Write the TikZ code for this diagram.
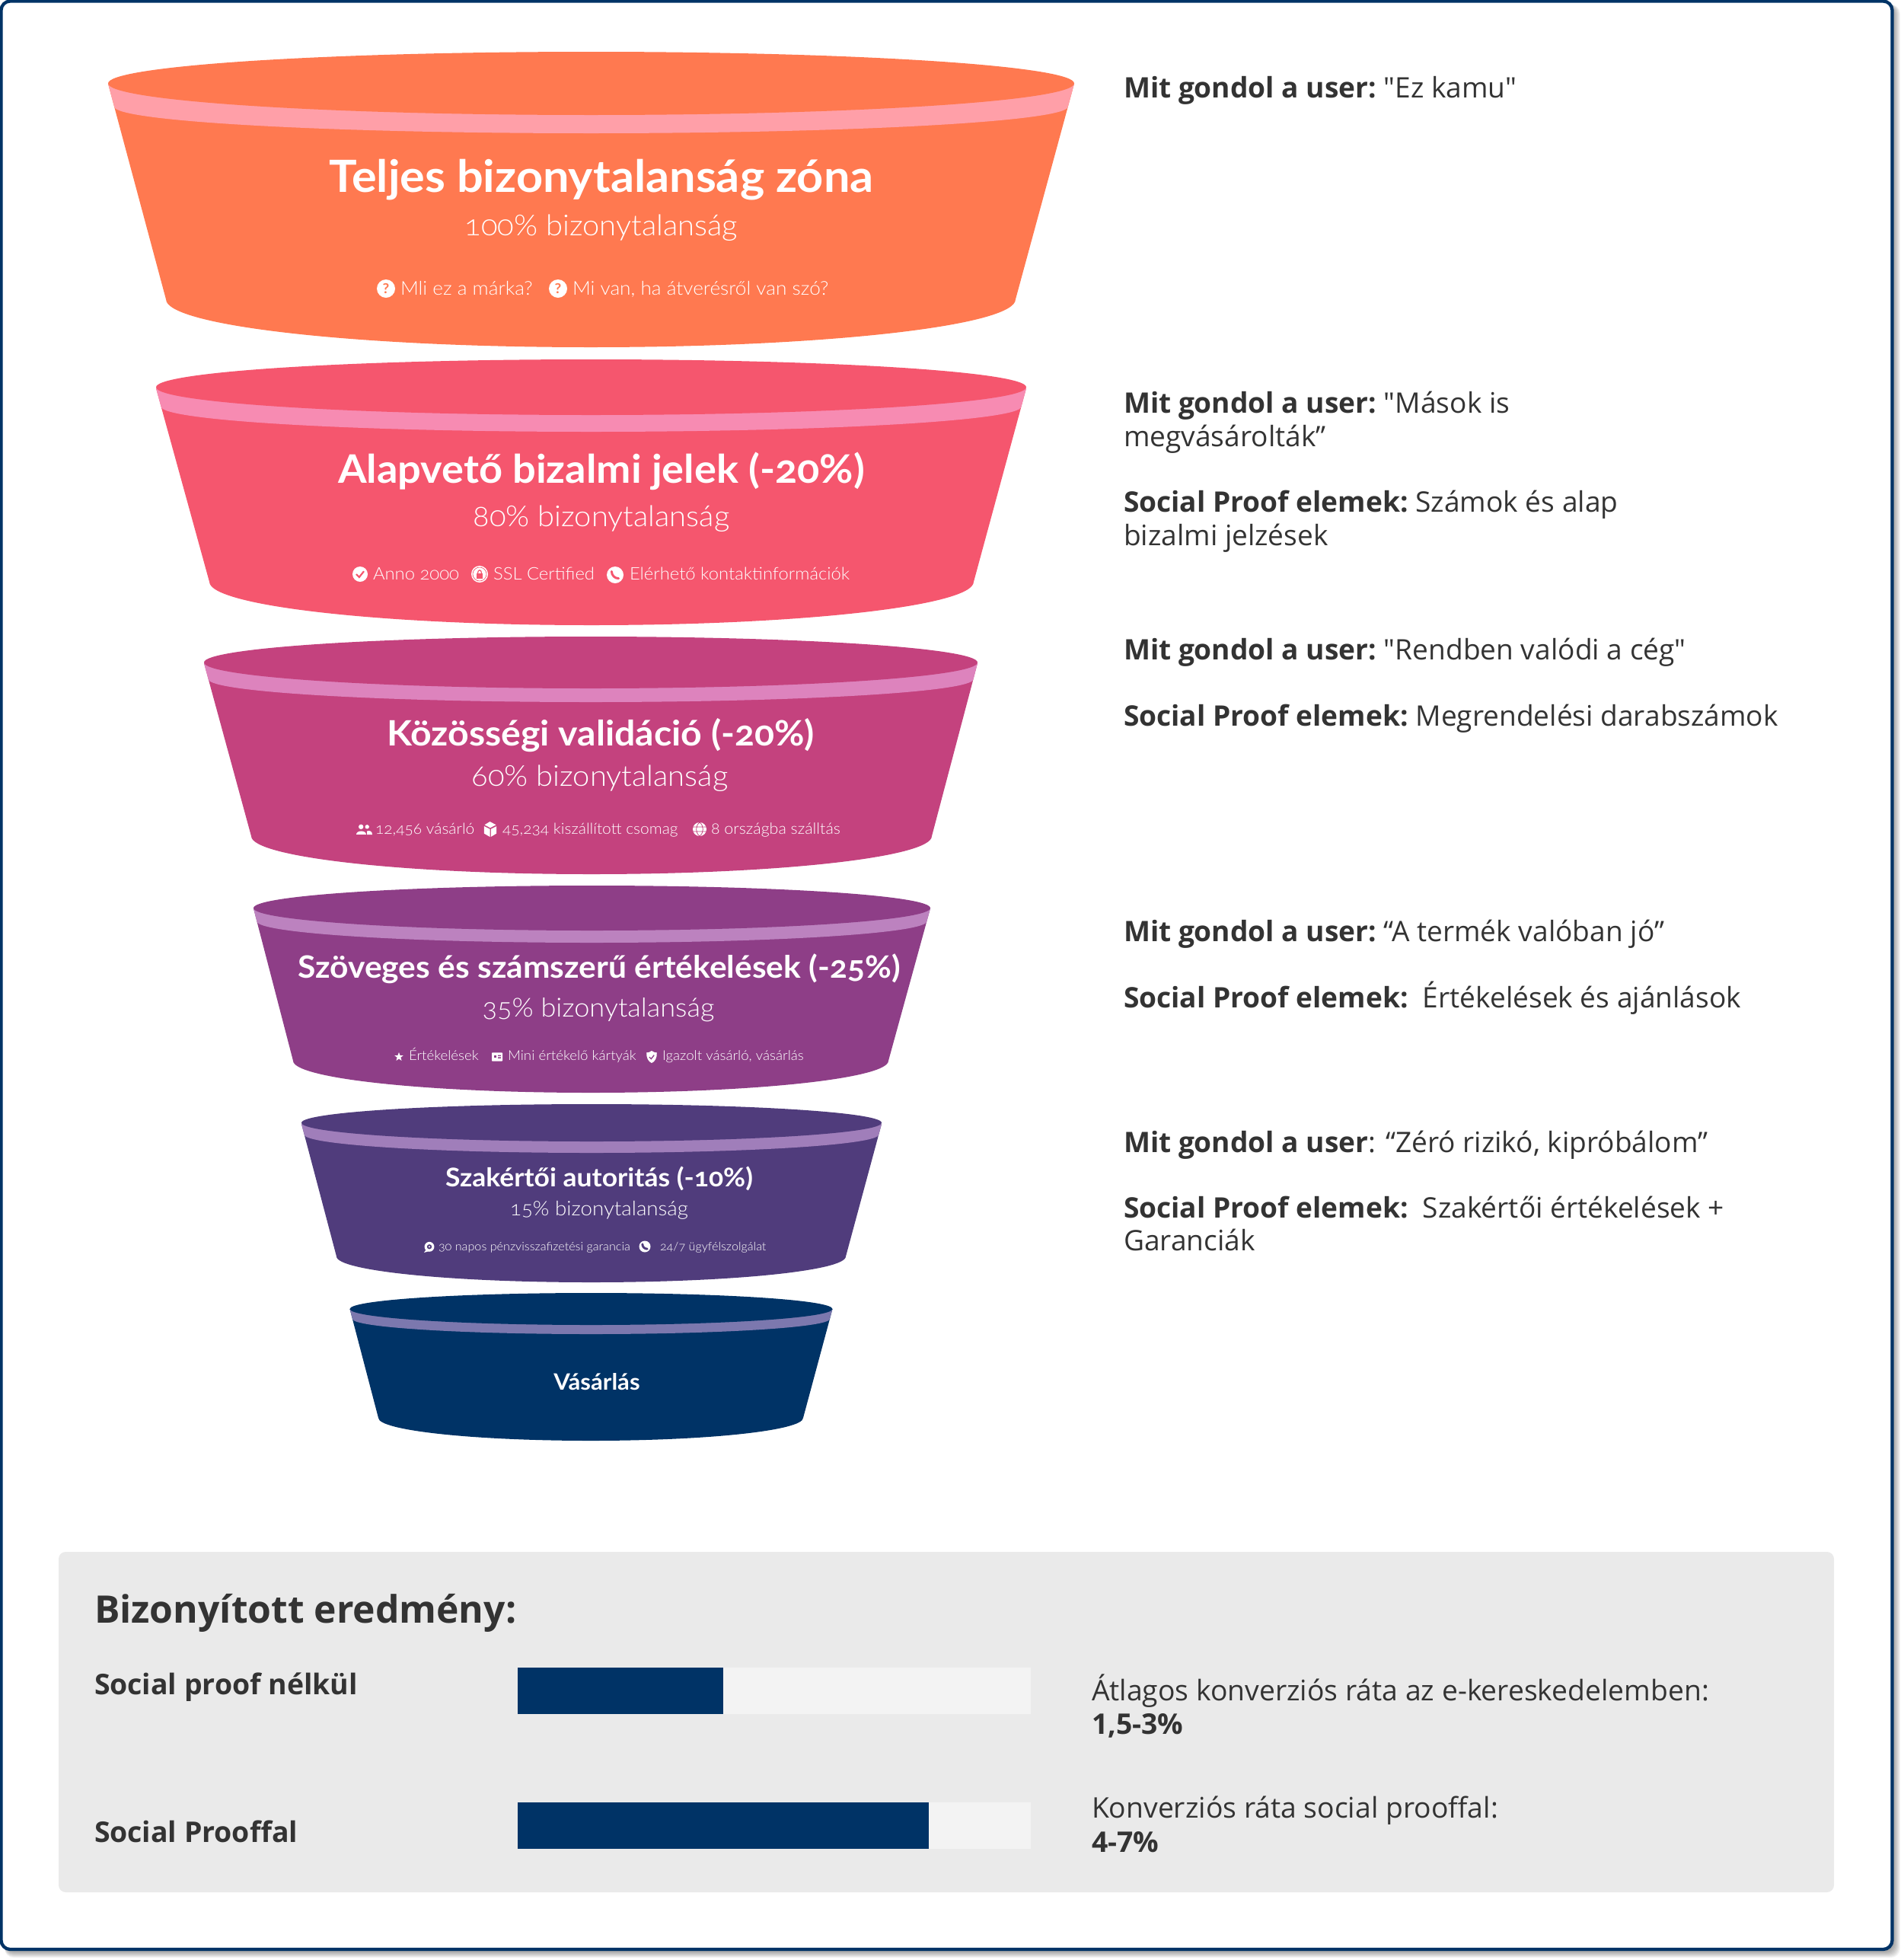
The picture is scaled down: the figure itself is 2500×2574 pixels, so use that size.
\documentclass[tikz,border=0pt]{standalone}
\usepackage{fontspec}
\newfontfamily\op{Open Sans}
\IfFontExistsTF{Lato Light}{\newfontfamily\rl[Numbers=OldStyle,FakeStretch=1.05]{Lato Light}}{\newfontfamily\rl[Numbers=OldStyle,FakeStretch=1.05]{Lato}}
\newfontfamily\rbb[Numbers=OldStyle,FakeStretch=1.05]{Lato Bold}
\newcommand\pxs[1]{\fontsize{\fpeval{#1*0.75}}{\fpeval{#1*0.9}}\selectfont}
\newcommand\vk{\kern-2.2pt}
\definecolor{navy}{HTML}{003366}
\definecolor{ink}{HTML}{333333}
\definecolor{panel}{HTML}{EAEAEA}
\definecolor{barbg}{HTML}{F3F3F3}
\definecolor{fa}{HTML}{FF7950}\definecolor{fab}{HTML}{FF9FA8}
\definecolor{fb}{HTML}{F5566E}\definecolor{fbb}{HTML}{F78BB2}
\definecolor{fc}{HTML}{C4427E}\definecolor{fcb}{HTML}{DD83BD}
\definecolor{fd}{HTML}{8E3E87}\definecolor{fdb}{HTML}{BC82BF}
\definecolor{fe}{HTML}{503C7C}\definecolor{feb}{HTML}{A07EBA}
\definecolor{ff}{HTML}{003366}\definecolor{ffb}{HTML}{7C78AE}
\tikzset{
  lab/.style={inner sep=0pt,outer sep=0pt,text=white,anchor=base},
  labw/.style={inner sep=0pt,outer sep=0pt,text=white,anchor=base west},
  side/.style={inner sep=0pt,outer sep=0pt,text=ink,anchor=base west,font=\op}
}
% icons: x, y, radius, colour
\newcommand\icq[5]{\fill[white] (#2,#3) circle[radius=#4];\node[inner sep=0pt,text=#5,font=\rbb\pxs{18}] (#1) at (#2,#3) {?};}
\newcommand\iccheck[4]{\begin{scope}[shift={(#1,#2)},scale=#3]\fill[white] (0,0) circle[radius=1];\draw[#4,line width=1.6pt] (-.5,0) -- (-.12,.4) -- (.5,-.38);\end{scope}}
\newcommand\iclock[4]{\begin{scope}[shift={(#1,#2)},scale=#3]\fill[white] (0,0) circle[radius=1];\draw[#4,line width=.5pt] (0,0) circle[radius=.82];\fill[#4] (-.4,-.05) rectangle (.4,.55);\draw[#4,line width=.9pt] (-.24,-.05) .. controls (-.24,-.62) and (.24,-.62) .. (.24,-.05);\end{scope}}
\newcommand\icphone[4]{\begin{scope}[shift={(#1,#2)},scale=#3]\fill[white] (0,0) circle[radius=1];\draw[#4,line width=2.2pt,line cap=round] (-.42,-.42) .. controls (-.42,.05) and (-.05,.42) .. (.42,.42);\end{scope}}
\newcommand\icusers[4]{\begin{scope}[shift={(#1,#2)},scale=#3]\fill[white] (-.38,-.32) circle[radius=.32] (.42,-.32) circle[radius=.27];\fill[white] (-1,.72) .. controls (-1,.1) and (.3,.1) .. (.3,.72) -- cycle;\fill[white] (.4,.72) -- (.4,.25) .. controls (.8,.1) and (1.1,.3) .. (1.1,.72) -- cycle;\end{scope}}
\newcommand\icbox[4]{\begin{scope}[shift={(#1,#2)},scale=#3]\fill[white] (-.82,-.4) -- (-.05,-.02) -- (-.05,1) -- (-.82,.55) -- cycle;\fill[white] (.82,-.4) -- (.08,-.02) -- (.08,1) -- (.82,.55) -- cycle;\fill[white] (-.75,-.58) -- (-.05,-1) -- (.75,-.58) -- (0,-.18) -- cycle;\end{scope}}
\newcommand\icglobe[4]{\begin{scope}[shift={(#1,#2)},scale=#3]\fill[white] (0,0) circle[radius=1];\draw[#4,line width=.55pt] (-1,-.33) -- (1,-.33) (-1,.33) -- (1,.33) (0,-1) .. controls (-.65,-.5) and (-.65,.5) .. (0,1) (0,-1) .. controls (.65,-.5) and (.65,.5) .. (0,1);\end{scope}}
\newcommand\icstar[3]{\fill[white,shift={(#1,#2)},scale=#3] (0,-1) -- (.26,-.33) -- (.95,-.31) -- (.4,.12) -- (.59,.81) -- (0,.42) -- (-.59,.81) -- (-.4,.12) -- (-.95,-.31) -- (-.26,-.33) -- cycle;}
\newcommand\iccard[4]{\begin{scope}[shift={(#1,#2)},scale=#3]\fill[white,rounded corners=.5pt] (-1,-.8) rectangle (1,.8);\fill[#4] (-.6,-.35) rectangle (-.1,.1);\fill[#4] (.15,-.35) rectangle (.7,-.15) (.15,.05) rectangle (.7,.25);\end{scope}}
\newcommand\icshield[4]{\begin{scope}[shift={(#1,#2)},scale=#3]\fill[white] (0,-1) .. controls (.3,-.75) and (.6,-.7) .. (.85,-.7) .. controls (.9,.2) and (.5,.8) .. (0,1) .. controls (-.5,.8) and (-.9,.2) .. (-.85,-.7) .. controls (-.6,-.7) and (-.3,-.75) .. (0,-1) -- cycle;\draw[#4,line width=1pt] (-.38,.02) -- (-.08,.32) -- (.4,-.3);\end{scope}}
\newcommand\icchat[4]{\begin{scope}[shift={(#1,#2)},scale=#3]\fill[white] (0,-.1) circle[radius=.92];\fill[white] (-.6,.4) -- (-1,1) -- (0,.7) -- cycle;\fill[#4] (0,-.1) circle[radius=.45];\fill[white] (0,-.1) circle[radius=.16];\end{scope}}
\begin{document}
\begin{tikzpicture}[x=.75pt,y=-.75pt]
\useasboundingbox (0,0) rectangle (2500,2574);
\fill[white] (0,0) rectangle (2500,2574);
% card shadow and border
\foreach \i in {1,...,10}{\fill[black,opacity=.045,rounded corners=9pt] (6,6) rectangle (2486+\i,2561+\i);}
\draw[navy,line width=3.2pt,fill=white,rounded corners=9pt] (1.5,1.5) rectangle (2485.5,2560);
% funnels
\foreach \lx/\rx/\ytop/\sy/\ebot/\syb/\bbot/\blx/\brx/\bly/\bot/\col/\bnd in {
 142/1411/68/110/151/140/175/218/1334/393/456/fa/fab,
 205/1348/472/510/545/534/567/275/1279/764/821/fb/fbb,
 268/1284/836/871/904/892/922/330/1224/1098/1148/fc/fcb,
 333/1222/1163/1193/1222/1210/1238/385/1167/1393/1435/fd/fdb,
 396/1158/1450/1476/1499/1490/1514/442/1111/1650/1684/fe/feb,
 459.5/1093.5/1698/1719/1740/1732/1752/497/1055/1862/1892/ff/ffb}{
  \pgfmathsetmacro\cx{(\lx+\rx)/2}
  \pgfmathsetmacro\rxa{(\rx-\lx)/2*.75}
  \pgfmathsetmacro\rya{(\ebot-\ytop)/2*.75}
  \pgfmathsetmacro\cy{(\ebot+\ytop)/2}
  \pgfmathsetmacro\bx{(\brx-\blx)/2*.75}
  \pgfmathsetmacro\by{(\bot-\bly)*.75}
  \pgfmathsetmacro\lxb{\lx+(\blx-\lx)*(\syb-\sy)/(\bly-\sy)}
  \pgfmathsetmacro\rxb{\rx+(\brx-\rx)*(\syb-\sy)/(\bly-\sy)}
  \pgfmathsetmacro\bdx{(\rxb-\lxb)/2*.75}
  \pgfmathsetmacro\bdy{(\bbot-\syb)*.75}
  \fill[\col] (\lx,\sy) -- (\blx,\bly) arc[start angle=180,end angle=360,x radius=\bx pt,y radius=\by pt] -- (\rx,\sy) -- cycle;
  \fill[\bnd] (\lx,\sy) -- (\lxb,\syb) arc[start angle=180,end angle=360,x radius=\bdx pt,y radius=\bdy pt] -- (\rx,\sy) -- cycle;
  \fill[\col] (\cx,\cy) ellipse[x radius=\rxa pt,y radius=\rya pt];
}
% funnel 1
\node[lab,font=\rbb\pxs{58.3}] (t1) at (790,252) {Teljes bizonytalanság zóna};
\node[lab,font=\rl\pxs{38}] (s1) at (790,309) {100\% bizonytalanság};
\icq{q1}{507}{379}{12}{fa}
\node[labw,font=\rl\pxs{25}] (a1) at (526,387) {Mli ez a márka?};
\icq{q2}{733}{379}{12}{fa}
\node[labw,font=\rl\pxs{25}] (a2) at (752,387) {Mi van, ha átverésről van szó?};
% funnel 2
\node[lab,font=\rbb\pxs{51.6}] (t2) at (790,634) {Alapvető bizalmi jelek (-20\%)};
\node[lab,font=\rl\pxs{38}] (s2) at (790,691) {80\% bizonytalanság};
\iccheck{473}{754}{10}{fb}
\node[labw,font=\rl\pxs{22.7}] (b1) at (490,761) {Anno 2000};
\iclock{630}{754}{11}{fb}
\node[labw,font=\rl\pxs{22.7}] (b2) at (648,761) {SSL Certified};
\icphone{808}{755}{11}{fb}
\node[labw,font=\rl\pxs{22.7}] (b3) at (827,761) {Elérhető kontaktinformációk};
% funnel 3
\node[lab,font=\rbb\pxs{45.9}] (t3) at (789,979) {Közösségi validáció (-20\%)};
\node[lab,font=\rl\pxs{38}] (s3) at (788,1032) {60\% bizonytalanság};
\icusers{478}{1089}{10}{fc}
\node[labw,font=\rl\pxs{20}] (c1) at (493,1095) {12,456 vásárló};
\icbox{644}{1089}{10}{fc}
\node[labw,font=\rl\pxs{20}] (c2) at (660,1095) {45,234 kiszállított csomag};
\icglobe{919}{1089}{9}{fc}
\node[labw,font=\rl\pxs{20.4}] (c3) at (934,1095) {8 országba szálltás};
% funnel 4
\node[lab,font=\rbb\pxs{40.5}] (t4) at (787,1284) {Szöveges és számszerű értékelések (-25\%)};
\node[lab,font=\rl\pxs{34.4}] (s4) at (786,1335) {35\% bizonytalanság};
\icstar{524}{1388}{6}
\node[labw,font=\rl\pxs{17.8}] (d1) at (537,1392) {Értékelések};
\iccard{653}{1388}{7}{fd}
\node[labw,font=\rl\pxs{17.8}] (d2) at (667,1392) {Mini értékelő kártyák};
\icshield{856}{1388}{8}{fd}
\node[labw,font=\rl\pxs{17.8}] (d3) at (870,1392) {Igazolt vásárló, vásárlás};
% funnel 5
\node[lab,font=\rbb\pxs{33.8}] (t5) at (787,1558) {Szakértői autoritás (-10\%)};
\node[lab,font=\rl\pxs{26.4}] (s5) at (787,1596) {15\% bizonytalanság};
\icchat{564}{1638}{7}{fe}
\node[labw,font=\rl\pxs{15.4}] (e1) at (576,1642) {30 napos pénzvisszafizetési garancia};
\icphone{847}{1637}{7.5}{fe}
\node[labw,font=\rl\pxs{15.4}] (e2) at (867,1642) {24/7 ügyfélszolgálat};
% funnel 6
\node[lab,font=\rbb\pxs{29.6}] (t6) at (784,1825) {Vásárlás};
% right column
\tikzset{rc/.style={side,font=\op\pxs{37.1}}}
\node[rc] (r1) at (1476,128) {\textbf{Mit gondol a user:}\vk{} "Ez kamu"};
\node[rc] (r2) at (1476,542) {\textbf{Mit gondol a user:}\vk{} "Mások is};
\node[rc] (r3) at (1476,586) {megvásárolták”};
\node[rc] (r4) at (1476,672) {\textbf{Social Proof elemek:}\vk{} Számok és alap};
\node[rc] (r5) at (1476,716) {bizalmi jelzések};
\node[rc] (r6) at (1476,866) {\textbf{Mit gondol a user:}\vk{} "Rendben valódi a cég"};
\node[rc] (r7) at (1476,953) {\textbf{Social Proof elemek:}\vk{} Megrendelési darabszámok};
\node[rc] (r8) at (1476,1236) {\textbf{Mit gondol a user:}\vk{} “A termék valóban jó”};
\node[rc] (r9) at (1476,1323) {\textbf{Social Proof elemek:}\ \ Értékelések és ajánlások};
\node[rc] (r10) at (1476,1513) {\textbf{Mit gondol a user}: “Zéró rizikó, kipróbálom”};
\node[rc] (r11) at (1476,1599) {\textbf{Social Proof elemek:}\ \ Szakértői értékelések +};
\node[rc] (r12) at (1476,1642) {Garanciák};
% result panel
\fill[panel,rounded corners=7pt] (77,2038) rectangle (2409,2485);
\node[side,font=\op\bfseries\pxs{49.8}] (h) at (124,2131) {Bizonyított eredmény:};
\node[side,font=\op\bfseries\pxs{37.4}] (l1) at (124,2225) {Social proof nélkül};
\node[side,font=\op\bfseries\pxs{37.4}] (l2) at (124,2419) {Social Prooffal};
\fill[barbg] (680,2190) rectangle (1354,2251);
\fill[navy] (680,2190) rectangle (950,2251);
\fill[barbg] (680,2367) rectangle (1354,2428);
\fill[navy] (680,2367) rectangle (1220,2428);
\node[side,font=\op\pxs{37.3}] (v1) at (1434,2233) {Átlagos konverziós ráta az e-kereskedelemben:};
\node[side,font=\op\bfseries\pxs{37.3}] (v2) at (1434,2277) {1,5-3\%};
\node[side,font=\op\pxs{37.3}] (v3) at (1434,2387) {Konverziós ráta social prooffal:};
\node[side,font=\op\bfseries\pxs{37.3}] (v4) at (1434,2432) {4-7\%};
\end{tikzpicture}
\end{document}
